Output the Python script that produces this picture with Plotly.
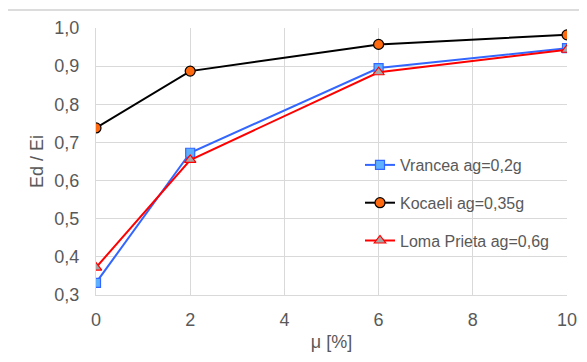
import plotly.graph_objects as go

mu = [0, 2, 6, 10]
vrancea = [0.332, 0.673, 0.895, 0.947]
kocaeli = [0.738, 0.887, 0.957, 0.982]
loma = [0.372, 0.654, 0.884, 0.943]
names = ["Vrancea ag=0,2g", "Kocaeli ag=0,35g", "Loma Prieta ag=0,6g"]

FONT = "Liberation Sans, Arial, sans-serif"
TXT = "#595959"
OFF = 8  # page body margin
W, H = 587 - OFF, 362 - OFF
L, T = 96 - OFF, 28 - OFF
pw, ph = 471, 267
R, B = W - L - pw, H - T - ph

fig = go.Figure()
fig.add_trace(go.Scatter(
    x=mu, y=vrancea, name=names[0], mode="lines+markers", legendgroup="a",
    line=dict(color="#3366ff", width=2),
    marker=dict(symbol="square", size=9, color="#5cb0ff", line=dict(color="#3366ff", width=1.2))))
fig.add_trace(go.Scatter(
    x=mu, y=kocaeli, name=names[1], mode="lines+markers", legendgroup="b",
    line=dict(color="#000000", width=2),
    marker=dict(symbol="circle", size=10, color="#ff6a10", line=dict(color="#000000", width=1.2))))
fig.add_trace(go.Scatter(
    x=mu, y=loma, name=names[2], mode="lines+markers", legendgroup="c",
    line=dict(color="#ff0000", width=2),
    marker=dict(symbol="triangle-up", size=10, color="#a6a6a6", line=dict(color="#ff0000", width=1.2))))

def px(xp):
    # page x -> paper x
    return (xp - OFF - L) / pw

def py(yp):
    # page y -> paper y
    return (T + ph - (yp - OFF)) / ph

# outer chart-area border (top edge visible)
fig.add_shape(type="line", xref="paper", yref="paper",
              x0=px(8), x1=px(600), y0=py(10), y1=py(10),
              line=dict(color="#d0d0d0", width=1.5), layer="above")

fig.update_layout(
    width=W, height=H,
    margin=dict(l=L, r=R, t=T, b=B, autoexpand=False),
    paper_bgcolor="white", plot_bgcolor="white",
    separators=", ",
    font=dict(family=FONT, size=16, color=TXT),
    legend=dict(x=px(360), y=py(148), xanchor="left", yanchor="top",
                bgcolor="rgba(0,0,0,0)", tracegroupgap=14,
                font=dict(family=FONT, size=16, color=TXT)),
    xaxis=dict(range=[0, 10], dtick=2, tick0=0, showgrid=True, gridcolor="#d9d9d9",
               showline=True, linecolor="#d9d9d9", zeroline=False, automargin=False,
               ticks="", ticklabelstandoff=8,
               tickfont=dict(family=FONT, size=18, color=TXT),
               title=dict(text="μ [%]", standoff=6,
                          font=dict(family=FONT, size=18, color=TXT))),
    yaxis=dict(range=[0.3, 1.0], dtick=0.1, tick0=0.3, tickformat=".1f",
               showgrid=True, gridcolor="#d9d9d9",
               showline=True, linecolor="#d9d9d9", zeroline=False, automargin=False,
               ticks="", ticklabelstandoff=12,
               tickfont=dict(family=FONT, size=18, color=TXT),
               title=dict(text="Ed / Ei", standoff=6,
                          font=dict(family=FONT, size=18, color=TXT))),
)
fig.write_html("out.html")
